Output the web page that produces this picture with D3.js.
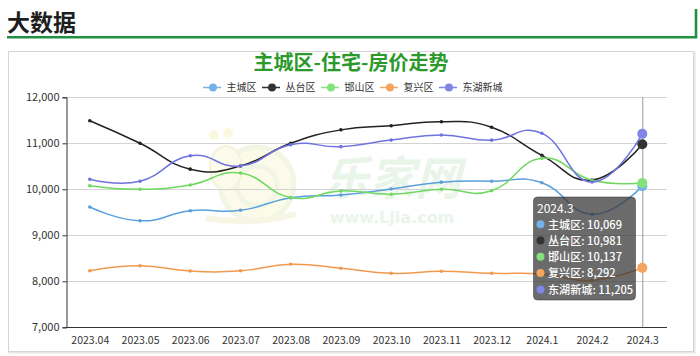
<!DOCTYPE html>
<html>
<head>
<meta charset="utf-8">
<script src="https://cdn.jsdelivr.net/npm/d3@7"></script>
<style>
  html, body { margin: 0; padding: 0; background: #fff; }
  svg { display: block; font-family: "Noto Sans CJK SC", "Noto Sans", sans-serif; }
</style>
</head>
<body>
<svg id="chart" width="700" height="356"></svg>
<script>
// ---- data ----
const categories = ["2023.04","2023.05","2023.06","2023.07","2023.08","2023.09","2023.10","2023.11","2023.12","2024.1","2024.2","2024.3"];
const seriesNames = ["主城区","丛台区","邯山区","复兴区","东湖新城"];
const zhucheng  = [9615, 9315, 9535, 9543, 9815, 9876, 10006, 10155, 10174, 10144, 9457, 10069];
const congtai   = [11491, 11000, 10438, 10506, 11000, 11292, 11383, 11470, 11348, 10739, 10202, 10981];
const hanshan   = [10078, 10000, 10095, 10352, 9820, 9965, 9891, 10000, 9970, 10674, 10195, 10137];
const fuxing    = [8230, 8339, 8224, 8230, 8370, 8283, 8174, 8217, 8174, 8159, 8020, 8292];
const donghu    = [10217, 10176, 10728, 10506, 10968, 10927, 11070, 11180, 11068, 11217, 10159, 11205];
const yTicks = [7000, 8000, 9000, 10000, 11000, 12000];
const colors = ["#5a9fdc", "#222222", "#6fd860", "#f19a4d", "#6f73df"];
const iconColors = ["#74b3ea", "#333333", "#84e27a", "#f5a560", "#8185e8"];
const headerText = "大数据";
const titleText = "主城区-住宅-房价走势";
const tooltipCategory = "2024.3";

const seriesValues = [zhucheng, congtai, hanshan, fuxing, donghu];

const svg = d3.select("#chart");

// header
svg.append("text").attr("x", 7).attr("y", 31)
  .attr("font-size", 23).attr("font-weight", 700).attr("fill", "#1e1e1e")
  .text(headerText);
svg.append("path").attr("d", "M7,37.2 H696 V9")
  .attr("fill", "none").attr("stroke", "#1f9140").attr("stroke-width", 2.6);

// panel
svg.append("rect").attr("x", 9.5).attr("y", 52.5).attr("width", 685).attr("height", 300)
  .attr("fill", "none").attr("stroke", "#e6e6e6").attr("stroke-width", 2);
svg.append("rect").attr("x", 8.5).attr("y", 51.5).attr("width", 685).attr("height", 300)
  .attr("fill", "#fff").attr("stroke", "#d6d6d6").attr("stroke-width", 1);

// title
svg.append("text").attr("x", 351).attr("y", 70).attr("text-anchor", "middle")
  .attr("font-size", 20).attr("font-weight", 700).attr("fill", "#2b9a2b")
  .text(titleText);

// scales
const x = d3.scalePoint().domain(categories).range([89.8, 642.3]);
const y = d3.scaleLinear().domain([7000, 12000]).range([327.3, 97.3]);
const plotLeft = 66, plotRight = 667;

// watermark
const wm = svg.append("g").attr("opacity", 0.55);
wm.append("circle").attr("cx", 257).attr("cy", 184).attr("r", 37).attr("fill", "#fbf8d8").attr("stroke", "#e8f0d0").attr("stroke-width", 5);
wm.append("circle").attr("cx", 257).attr("cy", 186).attr("r", 20).attr("fill", "none").attr("stroke", "#e6eed0").attr("stroke-width", 5);
wm.append("ellipse").attr("cx", 226).attr("cy", 168).attr("rx", 16).attr("ry", 22).attr("fill", "#fbf8dc").attr("stroke", "#ece8c0").attr("stroke-width", 2);
wm.append("circle").attr("cx", 214).attr("cy", 135).attr("r", 5).attr("fill", "#f8f4cc");
wm.append("circle").attr("cx", 228).attr("cy", 133).attr("r", 5).attr("fill", "#f8f4cc");
wm.append("path").attr("d", "M206,218 Q250,226 296,214").attr("fill", "none").attr("stroke", "#f2f0d0").attr("stroke-width", 6);
svg.append("text").attr("x", 392).attr("y", 195).attr("text-anchor", "middle")
  .attr("font-size", 46).attr("font-weight", 700).attr("font-style", "italic").attr("fill", "#eaf5ea")
  .text("乐家网");
svg.append("text").attr("x", 392).attr("y", 222.5).attr("text-anchor", "middle")
  .attr("font-size", 16).attr("font-weight", 700).attr("fill", "#eaf5ea")
  .attr("font-family", "DejaVu Sans, sans-serif")
  .text("www.Ljia.com");

// gridlines
svg.append("g").selectAll("line").data(yTicks.slice(1)).join("line")
  .attr("x1", plotLeft).attr("x2", plotRight)
  .attr("y1", d => Math.round(y(d)) + 0.5).attr("y2", d => Math.round(y(d)) + 0.5)
  .attr("stroke", "#d3d3d3").attr("stroke-width", 1);

// y axis
const yAxis = d3.axisLeft(y).tickValues(yTicks).tickSize(4).tickPadding(3).tickFormat(d3.format(","));
const yg = svg.append("g").attr("transform", `translate(${plotLeft + 0.5},0)`).call(yAxis);
yg.select(".domain").attr("stroke", "#333");
yg.selectAll(".tick line").attr("stroke", "#333");
yg.selectAll("text").attr("font-size", 11).attr("fill", "#333").attr("font-family", "Noto Sans CJK SC, sans-serif");

// x axis
const xAxis = d3.axisBottom(x).tickSize(0).tickPadding(9);
const xg = svg.append("g").attr("transform", `translate(0,${Math.round(y(7000)) + 0.5})`).call(xAxis);
xg.select(".domain").attr("d", `M${plotLeft},0H${plotRight}`).attr("stroke", "#333");
xg.selectAll("text").attr("font-size", 10.5).attr("fill", "#333").attr("font-family", "Noto Sans CJK SC, sans-serif");

// axis pointer
svg.append("line").attr("x1", x(tooltipCategory) + 0.5).attr("x2", x(tooltipCategory) + 0.5)
  .attr("y1", y(12000)).attr("y2", y(7000)).attr("stroke", "#999").attr("stroke-width", 1);

// lines
const line = d3.line().x((d, i) => x(categories[i])).y(d => y(d)).curve(d3.curveCardinal.tension(-0.4));
seriesValues.forEach((vals, s) => {
  svg.append("path").datum(vals).attr("d", line)
    .attr("fill", "none").attr("stroke", colors[s]).attr("stroke-width", 1.5);
  svg.append("g").selectAll("circle").data(vals).join("circle")
    .attr("cx", (d, i) => x(categories[i])).attr("cy", d => y(d))
    .attr("r", (d, i) => categories[i] === tooltipCategory ? 5 : 1.8)
    .attr("fill", (d, i) => categories[i] === tooltipCategory ? iconColors[s] : colors[s]);
});

// legend
const legendX = [203, 262, 321, 380, 439];
const lg = svg.append("g");
seriesNames.forEach((n, s) => {
  const gx = legendX[s], gy = 87.5;
  lg.append("line").attr("x1", gx).attr("x2", gx + 18).attr("y1", gy).attr("y2", gy)
    .attr("stroke", iconColors[s]).attr("stroke-width", 1.5);
  lg.append("circle").attr("cx", gx + 10).attr("cy", gy).attr("r", 4).attr("fill", iconColors[s]);
  lg.append("text").attr("x", gx + 23.5).attr("y", gy + 3.6)
    .attr("font-size", 10).attr("fill", "#333").text(n);
});

// tooltip
const tt = svg.append("g");
tt.append("rect").attr("x", 533.5).attr("y", 197).attr("width", 102).attr("height", 103).attr("rx", 4)
  .attr("fill", "rgba(50,50,50,0.72)").attr("stroke", "#333").attr("stroke-width", 0.5);
tt.append("text").attr("x", 537).attr("y", 212.5).attr("font-size", 12).attr("fill", "#fff").text(tooltipCategory);
const ti = categories.indexOf(tooltipCategory);
seriesNames.forEach((n, s) => {
  const by = 228.5 + s * 16.3;
  tt.append("circle").attr("cx", 540.5).attr("cy", by - 4.3).attr("r", 4).attr("fill", iconColors[s]);
  tt.append("text").attr("x", 548).attr("y", by).attr("font-size", 11.1).attr("font-weight", 500).attr("fill", "#fff")
    .text(n + ": " + d3.format(",")(seriesValues[s][ti]));
});
</script>
</body>
</html>
